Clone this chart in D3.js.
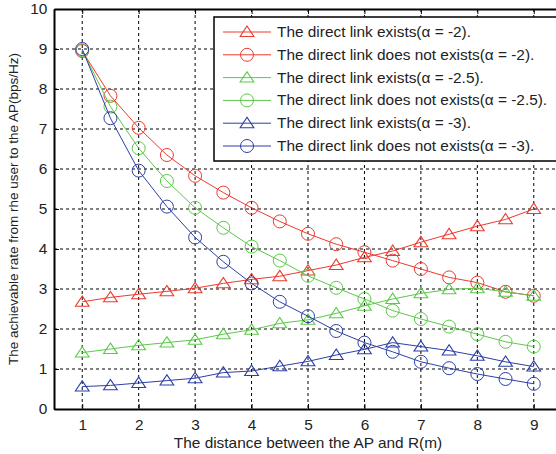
<!DOCTYPE html>
<html>
<head>
<meta charset="utf-8">
<script src="https://cdn.jsdelivr.net/npm/d3@7"></script>
<style>
  body { margin: 0; background: #fff; }
  text { font-family: "Liberation Sans", Arial, sans-serif; fill: #222; }
</style>
</head>
<body>
<div id="chart"></div>
<script>
// data
var distance = [1, 1.5, 2, 2.5, 3, 3.5, 4, 4.5, 5, 5.5, 6, 6.5, 7, 7.5, 8, 8.5, 9];
var existsA2   = [2.68, 2.79, 2.87, 2.94, 3.02, 3.14, 3.24, 3.32, 3.46, 3.60, 3.79, 3.95, 4.17, 4.37, 4.57, 4.74, 5.00];
var notExistsA2 = [8.95, 7.83, 7.03, 6.35, 5.83, 5.41, 5.03, 4.69, 4.38, 4.12, 3.92, 3.71, 3.50, 3.29, 3.16, 2.93, 2.83];
var existsA25  = [1.41, 1.50, 1.59, 1.66, 1.73, 1.87, 1.98, 2.14, 2.23, 2.39, 2.58, 2.75, 2.89, 2.99, 3.02, 2.93, 2.83];
var notExistsA25 = [8.97, 7.56, 6.52, 5.70, 5.03, 4.53, 4.06, 3.71, 3.33, 3.03, 2.75, 2.46, 2.25, 2.06, 1.87, 1.68, 1.56];
var existsA3   = [0.56, 0.59, 0.65, 0.71, 0.77, 0.91, 0.95, 1.07, 1.19, 1.35, 1.49, 1.66, 1.56, 1.46, 1.33, 1.18, 1.06];
var notExistsA3 = [9.00, 7.27, 5.96, 5.06, 4.29, 3.68, 3.14, 2.68, 2.32, 1.95, 1.66, 1.43, 1.18, 1.02, 0.875, 0.75, 0.63];
var xTicks = [1, 2, 3, 4, 5, 6, 7, 8, 9];
var yTicks = [0, 1, 2, 3, 4, 5, 6, 7, 8, 9, 10];

var red = "#ec3a2e", green = "#5cc94a", blue = "#2c3fa6";

var series = [
    { name: "The direct link exists(\u03b1 = -2).", values: existsA2, color: red, marker: "triangle" },
    { name: "The direct link does not exists(\u03b1 = -2).", values: notExistsA2, color: red, marker: "circle" },
    { name: "The direct link exists(\u03b1 = -2.5).", values: existsA25, color: green, marker: "triangle" },
    { name: "The direct link does not exists(\u03b1 = -2.5).", values: notExistsA25, color: green, marker: "circle" },
    { name: "The direct link exists(\u03b1 = -3).", values: existsA3, color: blue, marker: "triangle" },
    { name: "The direct link does not exists(\u03b1 = -3).", values: notExistsA3, color: blue, marker: "circle" }
];

var svgWidth = 556;
var svgHeight = 454;
var margin = { top: 9, bottom: 45, right: -6, left: 54 };
var width = svgWidth - margin.left - margin.right;
var height = svgHeight - margin.top - margin.bottom;

// the original figure is a bit stretched sideways
var stretch = 1.1;

var svg = d3.select("#chart")
    .append("svg")
    .attr("width", svgWidth)
    .attr("height", svgHeight)
    .style("display", "block");

var g = svg.append("g")
    .attr("transform", `translate(${margin.left}, ${margin.top})`);

var x = d3.scaleLinear().domain([0.5, 9.5]).range([0, width]);
var y = d3.scaleLinear().domain([0, 10]).range([height, 0]);

// grid
g.append("g").selectAll("line")
    .data(xTicks)
    .enter().append("line")
    .attr("x1", d => x(d)).attr("x2", d => x(d))
    .attr("y1", 0).attr("y2", height)
    .attr("stroke", "#000").attr("stroke-width", 1)
    .attr("stroke-dasharray", "3,3");

g.append("g").selectAll("line")
    .data(yTicks.slice(1, -1))
    .enter().append("line")
    .attr("x1", 0).attr("x2", width)
    .attr("y1", d => y(d)).attr("y2", d => y(d))
    .attr("stroke", "#000").attr("stroke-width", 1)
    .attr("stroke-dasharray", "3,3");

// axes (ticks pointing inward)
var xAxis = g.append("g")
    .attr("transform", `translate(0, ${height})`)
    .call(d3.axisBottom(x).tickValues(xTicks).tickSizeInner(-5).tickSizeOuter(0).tickPadding(11));

var xTop = g.append("g")
    .call(d3.axisTop(x).tickValues(xTicks).tickSizeInner(-5).tickSizeOuter(0).tickFormat(""));

var yAxis = g.append("g")
    .call(d3.axisLeft(y).tickValues(yTicks).tickSizeInner(-5).tickSizeOuter(0).tickPadding(6));

[xAxis, xTop, yAxis].forEach(a => {
    a.select(".domain").attr("stroke", "#000").attr("stroke-width", 2);
    a.selectAll(".tick line").attr("stroke", "#000").attr("stroke-width", 1);
    a.selectAll(".tick text")
        .style("font-family", "'Liberation Sans', Arial, sans-serif")
        .style("font-size", "14px")
        .attr("fill", "#222")
        .attr("transform", `scale(${stretch},1)`);
});

// lines and markers
var line = d3.line()
    .x((d, i) => x(distance[i]))
    .y(d => y(d));

var triangle = d3.symbol().type(d3.symbolTriangle).size(62);

function drawMarker(sel, marker, color) {
    if (marker === "circle") {
        sel.append("circle")
            .attr("r", 6.5)
            .attr("fill", "none")
            .attr("stroke", color)
            .attr("stroke-width", 1);
    } else {
        sel.append("path")
            .attr("d", triangle())
            .attr("transform", "translate(0,1) scale(1.15,1)")
            .attr("fill", "none")
            .attr("stroke", color)
            .attr("stroke-width", 1);
    }
}

series.forEach(s => {
    g.append("path")
        .datum(s.values)
        .attr("d", line)
        .attr("fill", "none")
        .attr("stroke", s.color)
        .attr("stroke-width", 1);

    g.append("g").selectAll("g")
        .data(s.values)
        .enter().append("g")
        .attr("transform", (d, i) => `translate(${x(distance[i])}, ${y(d)})`)
        .each(function () { drawMarker(d3.select(this), s.marker, s.color); });
});

// legend
var legend = g.append("g").attr("transform", "translate(160, 8)");
legend.append("rect")
    .attr("x", 0).attr("y", 0)
    .attr("width", 360).attr("height", 144)
    .attr("fill", "#fff")
    .attr("stroke", "#000")
    .attr("stroke-width", 1.5);

series.forEach((s, i) => {
    var row = legend.append("g").attr("transform", `translate(0, ${15 + i * 22.8})`);
    row.append("line")
        .attr("x1", 9).attr("x2", 57)
        .attr("stroke", s.color).attr("stroke-width", 1);
    var m = row.append("g").attr("transform", "translate(33, 0)");
    drawMarker(m, s.marker, s.color);
    row.append("text")
        .attr("transform", `translate(63, 5) scale(${stretch},1)`)
        .style("font-size", "14px")
        .text(s.name);
});

// axis titles
g.append("text")
    .attr("transform", `translate(${(x(0.5) + x(9.5)) / 2}, ${height + 39}) scale(${stretch},1)`)
    .attr("text-anchor", "middle")
    .style("font-size", "14px")
    .text("The distance between the AP and R(m)");

g.append("text")
    .attr("transform", `translate(-36, ${height / 2}) rotate(-90)`)
    .attr("text-anchor", "middle")
    .style("font-size", "13.5px")
    .text("The achievable rate from rhe user to the AP(bps/Hz)");
</script>
</body>
</html>
